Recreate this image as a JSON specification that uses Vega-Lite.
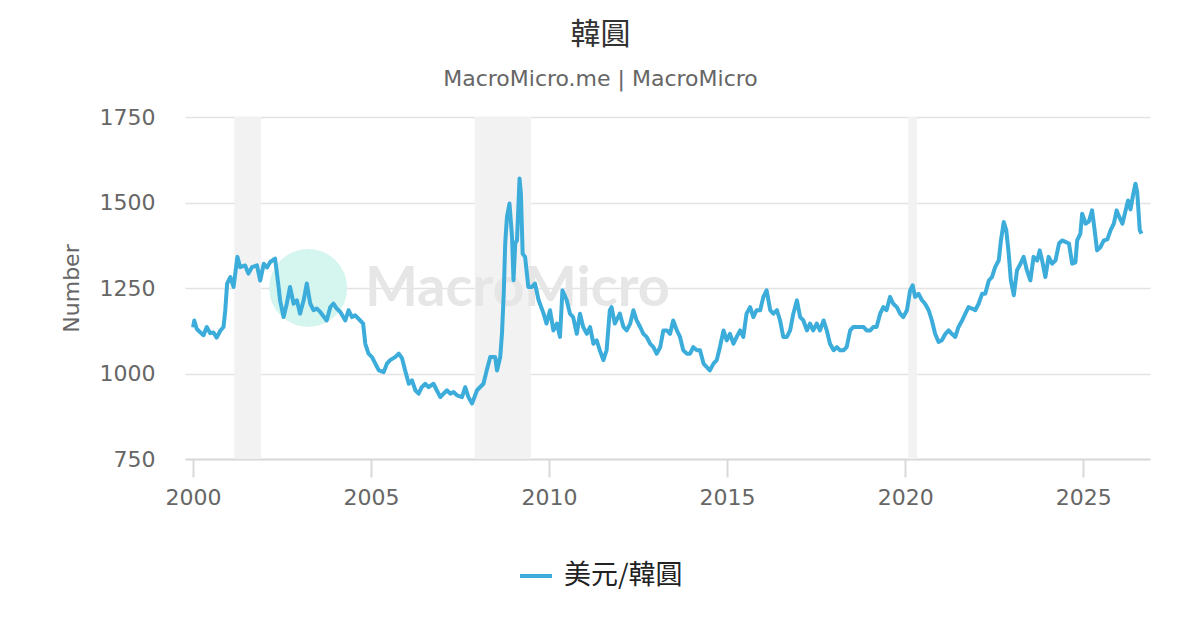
{
  "$schema": "https://vega.github.io/schema/vega-lite/v6.json",
  "width": 965,
  "height": 342,
  "autosize": "none",
  "padding": {"left": 185, "top": 117, "right": 50, "bottom": 171},
  "background": "white",
  "title": {
    "text": "韓圓",
    "subtitle": "MacroMicro.me | MacroMicro",
    "anchor": "middle",
    "frame": "group",
    "dx": -67,
    "font": "Noto Sans CJK TC",
    "fontSize": 30,
    "fontWeight": "normal",
    "color": "#333333",
    "subtitleFont": "DejaVu Sans",
    "subtitleFontSize": 22,
    "subtitleColor": "#666666",
    "subtitlePadding": 19,
    "offset": 16
  },
  "datasets": {
    "recessions": [
      {"start": "2001-03-01", "end": "2001-11-30"},
      {"start": "2007-12-01", "end": "2009-06-30"},
      {"start": "2020-02-01", "end": "2020-04-30"}
    ],
    "watermark_logo": [{"date": "2003-03-28", "krw": 1250}],
    "watermark_text": [{"date": "2009-02-10", "krw": 1246, "label": "MacroMicro"}],
    "krw": [
      {"date": "2000-01-03", "krw": 1135},
      {"date": "2000-01-15", "krw": 1155},
      {"date": "2000-02-10", "krw": 1130},
      {"date": "2000-03-18", "krw": 1120},
      {"date": "2000-04-19", "krw": 1112},
      {"date": "2000-05-22", "krw": 1136},
      {"date": "2000-06-27", "krw": 1118},
      {"date": "2000-07-30", "krw": 1120},
      {"date": "2000-09-01", "krw": 1105},
      {"date": "2000-10-08", "krw": 1125},
      {"date": "2000-11-10", "krw": 1136},
      {"date": "2000-11-28", "krw": 1185},
      {"date": "2000-12-17", "krw": 1263},
      {"date": "2001-01-19", "krw": 1282},
      {"date": "2001-02-21", "krw": 1253},
      {"date": "2001-04-01", "krw": 1341},
      {"date": "2001-04-30", "krw": 1311},
      {"date": "2001-06-20", "krw": 1316},
      {"date": "2001-07-23", "krw": 1292},
      {"date": "2001-08-29", "krw": 1311},
      {"date": "2001-10-19", "krw": 1316},
      {"date": "2001-11-21", "krw": 1272},
      {"date": "2001-12-28", "krw": 1321},
      {"date": "2002-01-30", "krw": 1310},
      {"date": "2002-03-04", "krw": 1326},
      {"date": "2002-04-23", "krw": 1336},
      {"date": "2002-05-29", "krw": 1253},
      {"date": "2002-06-13", "krw": 1214},
      {"date": "2002-07-19", "krw": 1165},
      {"date": "2002-08-21", "krw": 1204},
      {"date": "2002-09-23", "krw": 1253},
      {"date": "2002-10-30", "krw": 1204},
      {"date": "2002-12-02", "krw": 1214},
      {"date": "2003-01-04", "krw": 1175},
      {"date": "2003-02-10", "krw": 1214},
      {"date": "2003-03-14", "krw": 1263},
      {"date": "2003-04-19", "krw": 1204},
      {"date": "2003-05-22", "krw": 1185},
      {"date": "2003-06-24", "krw": 1190},
      {"date": "2003-07-30", "krw": 1180},
      {"date": "2003-10-04", "krw": 1155},
      {"date": "2003-11-10", "krw": 1194},
      {"date": "2003-12-13", "krw": 1204},
      {"date": "2004-01-15", "krw": 1190},
      {"date": "2004-02-21", "krw": 1180},
      {"date": "2004-04-12", "krw": 1155},
      {"date": "2004-05-15", "krw": 1185},
      {"date": "2004-06-20", "krw": 1165},
      {"date": "2004-07-23", "krw": 1170},
      {"date": "2004-09-12", "krw": 1155},
      {"date": "2004-10-12", "krw": 1146},
      {"date": "2004-11-03", "krw": 1087},
      {"date": "2004-12-06", "krw": 1058},
      {"date": "2005-01-11", "krw": 1048},
      {"date": "2005-02-14", "krw": 1029},
      {"date": "2005-03-22", "krw": 1009},
      {"date": "2005-05-11", "krw": 1004},
      {"date": "2005-06-13", "krw": 1029},
      {"date": "2005-07-16", "krw": 1039},
      {"date": "2005-09-05", "krw": 1048},
      {"date": "2005-10-12", "krw": 1058},
      {"date": "2005-11-14", "krw": 1045},
      {"date": "2005-12-17", "krw": 1009},
      {"date": "2006-01-23", "krw": 970},
      {"date": "2006-02-25", "krw": 980},
      {"date": "2006-04-01", "krw": 951},
      {"date": "2006-05-04", "krw": 941},
      {"date": "2006-06-05", "krw": 960},
      {"date": "2006-07-12", "krw": 970},
      {"date": "2006-08-14", "krw": 960},
      {"date": "2006-10-04", "krw": 970},
      {"date": "2006-11-06", "krw": 951},
      {"date": "2006-12-13", "krw": 931},
      {"date": "2007-01-15", "krw": 941},
      {"date": "2007-02-17", "krw": 951},
      {"date": "2007-03-25", "krw": 941},
      {"date": "2007-04-27", "krw": 946},
      {"date": "2007-06-02", "krw": 936},
      {"date": "2007-07-23", "krw": 931},
      {"date": "2007-08-25", "krw": 960},
      {"date": "2007-09-27", "krw": 931},
      {"date": "2007-11-03", "krw": 912},
      {"date": "2007-12-24", "krw": 951},
      {"date": "2008-02-28", "krw": 970},
      {"date": "2008-04-01", "krw": 1009},
      {"date": "2008-05-08", "krw": 1048},
      {"date": "2008-06-27", "krw": 1048},
      {"date": "2008-07-16", "krw": 1009},
      {"date": "2008-08-18", "krw": 1048},
      {"date": "2008-09-05", "krw": 1117},
      {"date": "2008-09-23", "krw": 1234},
      {"date": "2008-10-08", "krw": 1380},
      {"date": "2008-10-26", "krw": 1458},
      {"date": "2008-11-21", "krw": 1497},
      {"date": "2008-12-17", "krw": 1399},
      {"date": "2009-01-01", "krw": 1273},
      {"date": "2009-01-19", "krw": 1380},
      {"date": "2009-02-06", "krw": 1390},
      {"date": "2009-03-04", "krw": 1570},
      {"date": "2009-03-18", "krw": 1526},
      {"date": "2009-04-05", "krw": 1350},
      {"date": "2009-04-30", "krw": 1341},
      {"date": "2009-06-02", "krw": 1253},
      {"date": "2009-07-08", "krw": 1253},
      {"date": "2009-08-10", "krw": 1263},
      {"date": "2009-09-16", "krw": 1214},
      {"date": "2009-11-06", "krw": 1175},
      {"date": "2009-12-06", "krw": 1146},
      {"date": "2010-01-11", "krw": 1185},
      {"date": "2010-02-14", "krw": 1126},
      {"date": "2010-03-22", "krw": 1146},
      {"date": "2010-04-23", "krw": 1107},
      {"date": "2010-05-18", "krw": 1243},
      {"date": "2010-07-01", "krw": 1214},
      {"date": "2010-08-03", "krw": 1175},
      {"date": "2010-09-05", "krw": 1165},
      {"date": "2010-10-12", "krw": 1116},
      {"date": "2010-11-14", "krw": 1175},
      {"date": "2010-12-17", "krw": 1136},
      {"date": "2011-01-23", "krw": 1116},
      {"date": "2011-02-25", "krw": 1136},
      {"date": "2011-04-01", "krw": 1087},
      {"date": "2011-05-04", "krw": 1097},
      {"date": "2011-06-05", "krw": 1068},
      {"date": "2011-07-12", "krw": 1039},
      {"date": "2011-08-14", "krw": 1068},
      {"date": "2011-09-16", "krw": 1185},
      {"date": "2011-10-04", "krw": 1194},
      {"date": "2011-11-06", "krw": 1146},
      {"date": "2011-12-28", "krw": 1175},
      {"date": "2012-02-03", "krw": 1136},
      {"date": "2012-03-07", "krw": 1126},
      {"date": "2012-04-12", "krw": 1146},
      {"date": "2012-05-15", "krw": 1185},
      {"date": "2012-06-16", "krw": 1156},
      {"date": "2012-07-23", "krw": 1136},
      {"date": "2012-08-25", "krw": 1116},
      {"date": "2012-09-27", "krw": 1107},
      {"date": "2012-11-03", "krw": 1087},
      {"date": "2012-12-06", "krw": 1077},
      {"date": "2013-01-08", "krw": 1058},
      {"date": "2013-02-14", "krw": 1077},
      {"date": "2013-03-18", "krw": 1126},
      {"date": "2013-04-23", "krw": 1126},
      {"date": "2013-05-26", "krw": 1116},
      {"date": "2013-06-27", "krw": 1155},
      {"date": "2013-08-03", "krw": 1126},
      {"date": "2013-09-05", "krw": 1107},
      {"date": "2013-10-08", "krw": 1068},
      {"date": "2013-11-14", "krw": 1058},
      {"date": "2013-12-17", "krw": 1058},
      {"date": "2014-01-19", "krw": 1077},
      {"date": "2014-02-25", "krw": 1068},
      {"date": "2014-03-29", "krw": 1068},
      {"date": "2014-05-04", "krw": 1029},
      {"date": "2014-06-05", "krw": 1019},
      {"date": "2014-07-08", "krw": 1009},
      {"date": "2014-08-14", "krw": 1029},
      {"date": "2014-09-16", "krw": 1039},
      {"date": "2014-10-19", "krw": 1077},
      {"date": "2014-11-25", "krw": 1126},
      {"date": "2014-12-28", "krw": 1097},
      {"date": "2015-01-30", "krw": 1116},
      {"date": "2015-03-07", "krw": 1087},
      {"date": "2015-04-09", "krw": 1107},
      {"date": "2015-05-15", "krw": 1126},
      {"date": "2015-06-16", "krw": 1107},
      {"date": "2015-07-19", "krw": 1175},
      {"date": "2015-08-25", "krw": 1194},
      {"date": "2015-09-27", "krw": 1165},
      {"date": "2015-10-30", "krw": 1185},
      {"date": "2015-12-06", "krw": 1185},
      {"date": "2016-01-08", "krw": 1224},
      {"date": "2016-02-10", "krw": 1243},
      {"date": "2016-03-18", "krw": 1185},
      {"date": "2016-04-19", "krw": 1175},
      {"date": "2016-05-26", "krw": 1185},
      {"date": "2016-06-27", "krw": 1155},
      {"date": "2016-07-30", "krw": 1107},
      {"date": "2016-09-05", "krw": 1107},
      {"date": "2016-10-08", "krw": 1126},
      {"date": "2016-11-10", "krw": 1175},
      {"date": "2016-12-17", "krw": 1214},
      {"date": "2017-01-19", "krw": 1165},
      {"date": "2017-02-21", "krw": 1155},
      {"date": "2017-03-29", "krw": 1126},
      {"date": "2017-04-30", "krw": 1146},
      {"date": "2017-06-02", "krw": 1126},
      {"date": "2017-07-08", "krw": 1146},
      {"date": "2017-08-10", "krw": 1126},
      {"date": "2017-09-16", "krw": 1155},
      {"date": "2017-10-19", "krw": 1126},
      {"date": "2017-11-21", "krw": 1087},
      {"date": "2017-12-28", "krw": 1068},
      {"date": "2018-01-30", "krw": 1077},
      {"date": "2018-03-04", "krw": 1068},
      {"date": "2018-04-09", "krw": 1068},
      {"date": "2018-05-11", "krw": 1077},
      {"date": "2018-06-16", "krw": 1126},
      {"date": "2018-07-19", "krw": 1136},
      {"date": "2018-08-21", "krw": 1136},
      {"date": "2018-09-27", "krw": 1136},
      {"date": "2018-10-30", "krw": 1136},
      {"date": "2018-12-02", "krw": 1126},
      {"date": "2019-01-08", "krw": 1126},
      {"date": "2019-02-10", "krw": 1136},
      {"date": "2019-03-14", "krw": 1136},
      {"date": "2019-04-19", "krw": 1175},
      {"date": "2019-05-22", "krw": 1194},
      {"date": "2019-06-24", "krw": 1185},
      {"date": "2019-07-30", "krw": 1224},
      {"date": "2019-09-01", "krw": 1204},
      {"date": "2019-10-08", "krw": 1194},
      {"date": "2019-11-10", "krw": 1175},
      {"date": "2019-12-13", "krw": 1165},
      {"date": "2020-01-19", "krw": 1185},
      {"date": "2020-02-21", "krw": 1243},
      {"date": "2020-03-18", "krw": 1258},
      {"date": "2020-04-12", "krw": 1224},
      {"date": "2020-05-18", "krw": 1233},
      {"date": "2020-06-20", "krw": 1215},
      {"date": "2020-07-23", "krw": 1204},
      {"date": "2020-08-29", "krw": 1185},
      {"date": "2020-10-01", "krw": 1155},
      {"date": "2020-11-03", "krw": 1116},
      {"date": "2020-12-09", "krw": 1092},
      {"date": "2021-01-11", "krw": 1097},
      {"date": "2021-02-17", "krw": 1116},
      {"date": "2021-03-22", "krw": 1126},
      {"date": "2021-04-23", "krw": 1116},
      {"date": "2021-05-29", "krw": 1107},
      {"date": "2021-07-01", "krw": 1136},
      {"date": "2021-08-07", "krw": 1155},
      {"date": "2021-09-09", "krw": 1175},
      {"date": "2021-10-12", "krw": 1194},
      {"date": "2021-11-17", "krw": 1190},
      {"date": "2021-12-20", "krw": 1185},
      {"date": "2022-01-23", "krw": 1204},
      {"date": "2022-02-28", "krw": 1233},
      {"date": "2022-04-01", "krw": 1233},
      {"date": "2022-05-08", "krw": 1272},
      {"date": "2022-06-09", "krw": 1282},
      {"date": "2022-07-12", "krw": 1311},
      {"date": "2022-08-18", "krw": 1331},
      {"date": "2022-09-09", "krw": 1389},
      {"date": "2022-10-08", "krw": 1443},
      {"date": "2022-11-03", "krw": 1419},
      {"date": "2022-11-28", "krw": 1350},
      {"date": "2022-12-20", "krw": 1272},
      {"date": "2023-01-19", "krw": 1229},
      {"date": "2023-02-21", "krw": 1302},
      {"date": "2023-03-29", "krw": 1321},
      {"date": "2023-04-30", "krw": 1341},
      {"date": "2023-06-02", "krw": 1302},
      {"date": "2023-07-08", "krw": 1272},
      {"date": "2023-08-10", "krw": 1341},
      {"date": "2023-09-16", "krw": 1330},
      {"date": "2023-10-12", "krw": 1360},
      {"date": "2023-11-06", "krw": 1330},
      {"date": "2023-12-09", "krw": 1282},
      {"date": "2024-01-11", "krw": 1341},
      {"date": "2024-02-17", "krw": 1321},
      {"date": "2024-03-22", "krw": 1331},
      {"date": "2024-04-27", "krw": 1380},
      {"date": "2024-05-29", "krw": 1389},
      {"date": "2024-07-01", "krw": 1385},
      {"date": "2024-08-07", "krw": 1380},
      {"date": "2024-09-09", "krw": 1321},
      {"date": "2024-10-12", "krw": 1325},
      {"date": "2024-10-30", "krw": 1389},
      {"date": "2024-12-02", "krw": 1409},
      {"date": "2024-12-20", "krw": 1467},
      {"date": "2025-01-26", "krw": 1438},
      {"date": "2025-02-28", "krw": 1445},
      {"date": "2025-04-01", "krw": 1477},
      {"date": "2025-04-19", "krw": 1438},
      {"date": "2025-05-22", "krw": 1360},
      {"date": "2025-06-27", "krw": 1370},
      {"date": "2025-07-30", "krw": 1389},
      {"date": "2025-09-05", "krw": 1392},
      {"date": "2025-10-08", "krw": 1419},
      {"date": "2025-11-10", "krw": 1438},
      {"date": "2025-12-09", "krw": 1477},
      {"date": "2026-01-01", "krw": 1460},
      {"date": "2026-02-06", "krw": 1438},
      {"date": "2026-03-11", "krw": 1477},
      {"date": "2026-04-05", "krw": 1506},
      {"date": "2026-04-30", "krw": 1480},
      {"date": "2026-05-29", "krw": 1526},
      {"date": "2026-06-20", "krw": 1555},
      {"date": "2026-07-08", "krw": 1530},
      {"date": "2026-08-03", "krw": 1419},
      {"date": "2026-08-21", "krw": 1409}
    ]
  },
  "layer": [
    {
      "data": {"name": "recessions"},
      "mark": {"type": "rect", "color": "#f2f2f2"},
      "encoding": {
        "x": {"field": "start", "type": "temporal", "title": null},
        "x2": {"field": "end"}
      }
    },
    {
      "data": {"name": "watermark_logo"},
      "mark": {"type": "point", "shape": "circle", "filled": true, "size": 6084, "color": "#d5f5ef", "opacity": 1},
      "encoding": {
        "x": {"field": "date", "type": "temporal"},
        "y": {"field": "krw", "type": "quantitative", "scale": {"domain": [750, 1750], "zero": false, "nice": false}}
      }
    },
    {
      "data": {"name": "watermark_text"},
      "mark": {"type": "text", "font": "Lato", "fontWeight": "bold", "fontSize": 56, "color": "#e6e6e6", "align": "center", "baseline": "middle"},
      "encoding": {
        "x": {"field": "date", "type": "temporal"},
        "y": {"field": "krw", "type": "quantitative", "scale": {"domain": [750, 1750], "zero": false, "nice": false}},
        "text": {"field": "label", "type": "nominal"}
      }
    },
    {
      "data": {"name": "krw"},
      "mark": {"type": "line", "strokeWidth": 4, "strokeJoin": "round"},
      "encoding": {
        "x": {
          "field": "date",
          "type": "temporal",
          "scale": {"domain": [{"year": 1999, "month": 10, "date": 12}, {"year": 2026, "month": 11, "date": 16}]},
          "axis": {
            "title": null,
            "values": [{"year": 2000}, {"year": 2005}, {"year": 2010}, {"year": 2015}, {"year": 2020}, {"year": 2025}],
            "format": "%Y",
            "grid": false,
            "labelFontSize": 22,
            "labelColor": "#666666",
            "labelPadding": 10,
            "tickColor": "#d9d9d9",
            "tickSize": 18,
            "tickWidth": 2,
            "domainColor": "#d9d9d9",
            "domainWidth": 2
          }
        },
        "y": {
          "field": "krw",
          "type": "quantitative",
          "scale": {"domain": [750, 1750], "zero": false, "nice": false},
          "axis": {
            "title": "Number",
            "values": [750, 1000, 1250, 1500, 1750],
            "format": "d",
            "titleFontSize": 22,
            "titleFontWeight": "normal",
            "titleColor": "#666666",
            "titlePadding": 16,
            "labelFontSize": 22,
            "labelColor": "#666666",
            "labelPadding": 30,
            "ticks": false,
            "domain": false,
            "gridColor": "#e3e3e3",
            "gridWidth": 1.5
          }
        },
        "color": {
          "datum": "美元/韓圓",
          "type": "nominal",
          "scale": {"range": ["#3cacdb"]},
          "legend": {
            "orient": "none",
            "legendX": 333,
            "legendY": 441,
            "title": null,
            "symbolType": "stroke",
            "symbolStrokeWidth": 4,
            "symbolSize": 1024,
            "labelFont": "Noto Sans CJK TC",
            "labelFontSize": 27,
            "labelColor": "#222222",
            "labelOffset": 10
          }
        }
      }
    }
  ],
  "config": {
    "font": "DejaVu Sans",
    "view": {"stroke": null}
  }
}
